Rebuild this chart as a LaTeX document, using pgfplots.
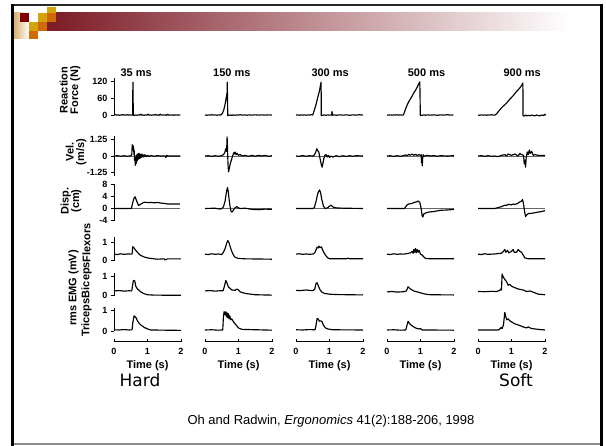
\documentclass[border=0pt]{standalone}
\usepackage{pgfplots}
\pgfplotsset{compat=1.18}
\usepackage{fontspec}
\setmainfont{Liberation Sans}
\newfontfamily\dejavu{DejaVu Sans}
\definecolor{barred}{HTML}{7E1E28}
\definecolor{sqred}{HTML}{840000}
\definecolor{gold}{HTML}{D4A20A}
\definecolor{orng}{HTML}{D06A08}
\definecolor{tan}{HTML}{D8B070}
\pgfplotsset{
  /pgf/number format/assume math mode=true,
  every axis title/.style={at={(0.5,1)}, anchor=base, yshift=1.5pt, font=\bfseries\fontsize{11}{11}\selectfont},
  panel/.style={scale only axis, width=67pt, xmin=0, xmax=2, clip=false},
  noax/.style={hide axis},
  ycol/.style={hide x axis, axis y line=left, axis line style={-, line width=0.9pt}, tick align=outside, major tick length=3pt, tick style={black, line width=0.9pt}, yticklabel style={font=\bfseries\fontsize{9}{9}\selectfont}},
  force/.style={panel, ymin=0, ymax=130, height=36.8pt, ytick={0,60,120}},
  vel/.style={panel, ymin=-1.5, ymax=1.5, height=39.6pt, ytick={-1.25,0,1.25}, yticklabels={{-1.25},{0},{1.25}}},
  disp/.style={panel, ymin=-4.3, ymax=8.3, height=37.8pt, ytick={-4,0,4,8}, yticklabels={{-4},{0},{4},{8}}},
  flex/.style={panel, ymin=0, ymax=1.28, height=23.9pt, ytick={0,1}},
  bic/.style={panel, ymin=0, ymax=1.2, height=22.8pt, ytick={0,1}},
  tri/.style={panel, ymin=0, ymax=1.15, height=23.3pt, ytick={0,1}},
  timeax/.style={scale only axis, width=67pt, height=8pt, xmin=0, xmax=2, ymin=0, ymax=1, hide y axis, axis x line=bottom, axis line style={-, line width=0.9pt}, xtick={0,1,2}, tick align=inside, major tick length=3pt, tick style={black, line width=0.9pt}, xticklabel style={font=\bfseries\fontsize{9}{9}\selectfont, yshift=-3pt}, xlabel={Time (s)}, xlabel style={at={(axis description cs:0.5,0)}, anchor=base, yshift=-27pt, font=\bfseries\fontsize{11}{11}\selectfont}},
  trace/.style={black, line width=1.15pt, line join=round, mark=none},
  zero/.style={black!60, line width=0.9pt, mark=none},
}
\begin{document}
\begin{tikzpicture}[x=1pt,y=1pt]
\fill[white] (0,0) rectangle (606,446);
% header decoration
\shade[left color=barred, right color=white] (56,415) rectangle (570,433);
\fill[barred] (47,415) rectangle (57,424);
\shade[left color=tan, right color=white] (14,407) rectangle (29,433);
\fill[sqred] (20,424) rectangle (29,433);
\fill[gold] (47,433) rectangle (56,439);
\fill[gold] (38,424) rectangle (47,433);
\fill[orng] (47,424) rectangle (56,433);
\fill[gold] (29,415) rectangle (38,424);
\fill[orng] (38,415) rectangle (47,424);
\fill[orng] (29,407) rectangle (38,415);
% frame
\fill[black!85] (11,440) rectangle (603,442);
\fill[black] (11,0) rectangle (14,442);
\fill[black] (600,0) rectangle (603,442);
\fill[black!45] (14,1) rectangle (600,3);

% ================= Reaction force =================
\begin{axis}[force, ycol, at={(114pt,331pt)}, title={35 ms}, title style={at={(0.33,1)}}]
\addplot[trace] coordinates {(0,0)(0.04,1)(0.08,-0.5)(0.12,0.5)(0.16,-1)(0.2,0.5)(0.24,-0.5)(0.28,1)(0.32,-0.5)(0.36,0)(0.4,1)(0.44,-0.5)(0.48,0.5)(0.52,-0.5)(0.555,0)(0.56,70)(0.565,116)(0.572,45)(0.578,-1)(0.6,-1.5)(0.64,0)(0.68,-1)(0.72,0.5)(0.76,-0.5)(0.8,3)(0.82,-0.5)(0.86,0)(0.9,-1)(0.94,0.5)(0.98,-0.5)(1.02,3)(1.04,-0.5)(1.08,0.5)(1.12,-1)(1.16,0.5)(1.2,-0.5)(1.24,2.5)(1.26,-0.5)(1.3,0)(1.34,-1)(1.38,3)(1.4,-0.5)(1.44,0.5)(1.48,-0.5)(1.52,0.5)(1.56,-1)(1.6,2.5)(1.62,-0.5)(1.66,0)(1.7,-0.5)(1.74,0.5)(1.78,-1)(1.82,0.5)(1.86,-0.5)(1.9,0.5)(1.94,-0.5)(1.98,0)};
\end{axis}
\begin{axis}[force, noax, at={(205pt,331pt)}, title={150 ms}, title style={at={(0.40,1)}}]
\addplot[trace] coordinates {(0,0)(0.05,-1)(0.1,0.5)(0.15,-0.5)(0.2,1)(0.25,-0.5)(0.3,0.5)(0.35,-1)(0.4,0.5)(0.45,-0.5)(0.48,1)(0.52,6)(0.56,18)(0.6,38)(0.63,58)(0.65,72)(0.66,80)(0.665,116)(0.672,60)(0.68,-2)(0.72,-1)(0.76,0.5)(0.8,-1.5)(0.85,0.5)(0.9,-1)(0.95,0.5)(1.0,-0.5)(1.05,1)(1.1,-0.5)(1.2,0.5)(1.25,-1)(1.3,0.5)(1.4,-0.5)(1.5,0.5)(1.6,-0.5)(1.7,0.5)(1.8,-0.5)(1.9,0.5)(2,-0.5)};
\end{axis}
\begin{axis}[force, noax, at={(296pt,331pt)}, title={300 ms}, title style={at={(0.51,1)}}]
\addplot[trace] coordinates {(0,0)(0.05,0.5)(0.1,-1)(0.15,0.5)(0.2,-0.5)(0.25,0.5)(0.3,-1)(0.35,0.5)(0.4,-0.5)(0.45,1)(0.5,0)(0.55,18)(0.6,38)(0.65,62)(0.7,85)(0.73,105)(0.75,116)(0.755,-2)(0.8,-1)(0.85,0.5)(0.9,-1.5)(0.95,0.5)(1.0,-0.5)(1.06,0)(1.075,12)(1.09,-1)(1.15,0.5)(1.2,-1)(1.3,0.5)(1.4,-0.5)(1.5,0.5)(1.6,-1)(1.7,0.5)(1.8,-0.5)(1.9,1)(2,-0.5)};
\end{axis}
\begin{axis}[force, noax, at={(387pt,331pt)}, title={500 ms}, title style={at={(0.59,1)}}]
\addplot[trace] coordinates {(0,0)(0.05,-0.5)(0.1,0.5)(0.15,-1)(0.2,0.5)(0.25,-0.5)(0.3,1)(0.35,-0.5)(0.4,0.5)(0.45,-0.5)(0.49,0)(0.55,20)(0.6,35)(0.65,47)(0.7,57)(0.75,67)(0.8,78)(0.85,87)(0.9,98)(0.95,110)(0.98,117)(0.995,-2)(1.05,-1)(1.1,0.5)(1.15,-1)(1.2,0.5)(1.3,-0.5)(1.4,0.5)(1.5,-1)(1.6,0.5)(1.7,-0.5)(1.8,1)(1.9,-0.5)(1.98,0)};
\end{axis}
\begin{axis}[force, noax, at={(478pt,331pt)}, title={900 ms}, title style={at={(0.66,1)}}]
\addplot[trace] coordinates {(0,0)(0.05,-1)(0.1,0.5)(0.15,-0.5)(0.2,0.5)(0.25,-1)(0.3,0.5)(0.35,-0.5)(0.4,1)(0.45,-0.5)(0.51,0)(0.56,5)(0.6,11)(0.65,18)(0.7,25)(0.75,31)(0.8,36)(0.86,43)(0.9,49)(0.95,56)(1.0,62)(1.05,68)(1.1,76)(1.15,83)(1.2,89)(1.25,96)(1.3,104)(1.34,113)(1.345,-2)(1.38,-4)(1.42,0)(1.46,-3)(1.5,-1)(1.55,-3)(1.6,0)(1.65,-2)(1.7,-3)(1.75,0)(1.8,-2)(1.85,-3)(1.9,0)(1.95,-2)(2,3)(2.01,-2)};
\end{axis}

% ================= Velocity =================
\begin{axis}[vel, ycol, at={(114pt,270.2pt)}]
\addplot[zero] coordinates {(0.02,0)(1.98,0)};
\addplot[trace] coordinates {(0,0)(0.1,0.02)(0.2,-0.02)(0.3,0.02)(0.4,-0.02)(0.5,0.02)(0.53,0.1)(0.545,0.85)(0.555,0.55)(0.565,0.8)(0.575,0.45)(0.585,0.7)(0.595,0.1)(0.605,0.4)(0.615,-0.35)(0.625,-0.1)(0.635,-0.7)(0.645,-0.3)(0.655,-0.6)(0.665,0.05)(0.675,-0.5)(0.685,0.1)(0.695,-0.35)(0.71,0.15)(0.725,-0.25)(0.74,0.2)(0.755,-0.2)(0.77,0.15)(0.79,-0.15)(0.81,0.15)(0.83,-0.1)(0.86,0.12)(0.89,-0.08)(0.92,0.1)(0.96,-0.05)(1.0,0.06)(1.05,-0.04)(1.1,0.04)(1.2,-0.03)(1.28,0.03)(1.4,0)(1.52,0.01)(1.55,-0.12)(1.57,0.05)(1.6,0)(1.98,0)};
\end{axis}
\begin{axis}[vel, noax, at={(205pt,270.2pt)}]
\addplot[zero] coordinates {(0,0)(2,0)};
\addplot[trace] coordinates {(0,0)(0.1,0.02)(0.2,-0.03)(0.3,0.02)(0.4,-0.02)(0.5,0.03)(0.55,0.1)(0.59,0.25)(0.62,0.55)(0.635,0.35)(0.65,0.7)(0.66,1.45)(0.668,0.9)(0.678,0)(0.69,-0.8)(0.705,-1.2)(0.72,-1.0)(0.74,-0.75)(0.77,-0.45)(0.8,-0.2)(0.83,0.05)(0.86,0.25)(0.88,0.15)(0.9,0.3)(0.93,0.1)(0.96,0.2)(1.0,0.05)(1.05,0.12)(1.1,0)(1.2,0.05)(1.3,-0.03)(1.4,0.05)(1.5,-0.02)(1.6,0.05)(1.7,0)(1.8,0.04)(1.9,-0.02)(2,0.02)};
\end{axis}
\begin{axis}[vel, noax, at={(296pt,270.2pt)}]
\addplot[zero] coordinates {(0,0)(2,0)};
\addplot[trace] coordinates {(0,0)(0.1,-0.02)(0.2,0.03)(0.3,-0.02)(0.4,0.02)(0.5,0)(0.55,0.08)(0.59,0.3)(0.62,0.55)(0.65,0.4)(0.68,0.3)(0.7,0.05)(0.73,-0.35)(0.76,-0.7)(0.78,-0.85)(0.8,-0.6)(0.83,-0.2)(0.86,0.05)(0.9,0.1)(0.93,-0.08)(0.97,0.05)(1.0,-0.1)(1.05,0)(1.1,-0.08)(1.2,0.02)(1.3,-0.05)(1.4,0.02)(1.5,-0.03)(1.6,0.02)(1.7,-0.02)(1.8,0.02)(2,0)};
\end{axis}
\begin{axis}[vel, noax, at={(387pt,270.2pt)}]
\addplot[zero] coordinates {(0,0)(2,0)};
\addplot[trace] coordinates {(0,0)(0.1,0.02)(0.2,-0.03)(0.3,0.02)(0.4,-0.02)(0.5,0.03)(0.55,0.08)(0.6,0.02)(0.65,0.12)(0.7,0.06)(0.75,0.15)(0.8,0.05)(0.85,0.13)(0.9,0.04)(0.95,0.1)(1.0,0.05)(1.02,0.1)(1.03,-0.5)(1.04,-0.1)(1.05,-0.75)(1.065,-0.2)(1.08,0.1)(1.1,-0.02)(1.2,0.05)(1.3,0)(1.4,0.03)(1.5,-0.02)(1.6,0.02)(1.8,0)(2,0.02)};
\end{axis}
\begin{axis}[vel, noax, at={(478pt,270.2pt)}]
\addplot[zero] coordinates {(0,0)(2,0)};
\addplot[trace] coordinates {(0,0)(0.1,0.02)(0.2,-0.02)(0.3,0.02)(0.4,-0.02)(0.5,0)(0.6,-0.05)(0.7,0.05)(0.8,0.1)(0.85,0)(0.9,0.15)(1.0,0.05)(1.1,0.15)(1.2,0.0)(1.25,0.2)(1.3,0.1)(1.36,0.05)(1.38,-0.6)(1.4,-0.3)(1.42,-0.85)(1.44,-0.1)(1.47,0.3)(1.5,0.1)(1.53,0.45)(1.56,0.2)(1.6,0.35)(1.65,0.05)(1.7,0.1)(1.8,0.05)(2,0.05)};
\end{axis}

% ================= Displacement =================
\begin{axis}[disp, ycol, at={(114pt,224.6pt)}]
\addplot[zero] coordinates {(0.02,0)(1.98,0)};
\addplot[trace] coordinates {(0,0)(0.52,0)(0.56,2)(0.6,3.5)(0.63,3.9)(0.66,3)(0.7,1.8)(0.74,1.0)(0.78,1.3)(0.85,1.8)(0.9,2.1)(1.0,2.0)(1.1,2.0)(1.2,1.9)(1.3,2.0)(1.4,1.8)(1.5,1.7)(1.6,1.5)(1.97,1.5)};
\end{axis}
\begin{axis}[disp, noax, at={(205pt,224.6pt)}]
\addplot[zero] coordinates {(0,0)(2,0)};
\addplot[trace] coordinates {(0,0)(0.3,0.1)(0.45,-0.2)(0.5,0)(0.55,0.5)(0.6,2.5)(0.64,5.5)(0.67,7)(0.69,6)(0.72,3)(0.75,0.5)(0.78,-1)(0.81,-1.2)(0.85,-0.5)(0.9,0.3)(0.95,0.6)(1.0,0.2)(1.05,0)(1.2,0.1)(1.4,-0.3)(1.6,-0.4)(1.8,-0.2)(2.0,-0.3)};
\end{axis}
\begin{axis}[disp, noax, at={(296pt,224.6pt)}]
\addplot[zero] coordinates {(0,0)(2,0)};
\addplot[trace] coordinates {(0,0)(0.5,0)(0.55,0.3)(0.6,2.5)(0.65,5)(0.7,6.2)(0.73,5.5)(0.77,3)(0.82,0.8)(0.87,0)(0.95,0.3)(1.0,0.8)(1.05,1.1)(1.1,0.5)(1.2,0.2)(1.4,0.1)(2,0)};
\end{axis}
\begin{axis}[disp, noax, at={(387pt,224.6pt)}]
\addplot[zero] coordinates {(0,0)(2,0)};
\addplot[trace] coordinates {(0,0)(0.52,0)(0.56,0.6)(0.6,1.2)(0.65,1.5)(0.7,1.6)(0.75,1.7)(0.8,2.0)(0.88,2.2)(0.93,2.5)(0.98,2.0)(1.02,0)(1.05,-2.5)(1.07,-2.8)(1.1,-1.8)(1.15,-1.5)(1.25,-1.2)(1.4,-1.0)(1.6,-0.6)(1.8,-0.5)(2.0,-0.3)};
\end{axis}
\begin{axis}[disp, noax, at={(478pt,224.6pt)}]
\addplot[zero] coordinates {(0,0)(2,0)};
\addplot[trace] coordinates {(0,0)(0.5,0)(0.6,0.3)(0.7,0.6)(0.8,1.1)(0.85,1.0)(0.9,1.4)(1.0,1.2)(1.05,1.5)(1.1,1.3)(1.2,1.8)(1.25,2.2)(1.3,2.5)(1.33,3.0)(1.36,1.5)(1.39,-1)(1.42,-2.7)(1.45,-2.2)(1.5,-1.7)(1.6,-1.6)(1.7,-1.4)(1.8,-1.2)(1.9,-1.0)(2.0,-0.7)};
\end{axis}

% ================= Flexors EMG =================
\begin{axis}[flex, ycol, at={(114pt,185.3pt)}]
\addplot[trace] coordinates {(0,0.35)(0.1,0.33)(0.2,0.37)(0.3,0.34)(0.4,0.36)(0.54,0.35)(0.56,0.75)(0.6,0.68)(0.65,0.55)(0.7,0.45)(0.75,0.35)(0.8,0.28)(0.9,0.2)(1.0,0.15)(1.1,0.12)(1.2,0.1)(1.3,0.08)(1.5,0.1)(1.52,0.04)(1.6,0.1)(2.0,0.1)};
\end{axis}
\begin{axis}[flex, noax, at={(205pt,185.3pt)}]
\addplot[trace] coordinates {(0,0.35)(0.1,0.33)(0.2,0.37)(0.3,0.34)(0.4,0.36)(0.5,0.33)(0.55,0.45)(0.6,0.65)(0.65,0.95)(0.68,1.08)(0.72,0.95)(0.76,0.7)(0.8,0.5)(0.85,0.3)(0.9,0.18)(1.0,0.12)(1.2,0.1)(2,0.08)};
\end{axis}
\begin{axis}[flex, noax, at={(296pt,185.3pt)}]
\addplot[trace] coordinates {(0,0.35)(0.1,0.37)(0.2,0.34)(0.3,0.36)(0.4,0.34)(0.52,0.36)(0.57,0.45)(0.6,0.6)(0.63,0.72)(0.66,0.68)(0.68,0.78)(0.72,0.7)(0.76,0.74)(0.8,0.55)(0.85,0.38)(0.9,0.25)(0.95,0.15)(1.0,0.1)(1.5,0.1)(1.55,0.14)(1.6,0.1)(2,0.1)};
\end{axis}
\begin{axis}[flex, noax, at={(387pt,185.3pt)}]
\addplot[trace] coordinates {(0,0.35)(0.1,0.33)(0.2,0.37)(0.3,0.34)(0.4,0.36)(0.5,0.35)(0.6,0.38)(0.7,0.42)(0.75,0.5)(0.78,0.4)(0.8,0.6)(0.82,0.45)(0.85,0.65)(0.87,0.42)(0.9,0.6)(0.93,0.45)(0.96,0.55)(1.0,0.35)(1.05,0.3)(1.1,0.2)(1.15,0.12)(1.3,0.1)(2,0.1)};
\end{axis}
\begin{axis}[flex, noax, at={(478pt,185.3pt)}]
\addplot[trace] coordinates {(0,0.35)(0.1,0.33)(0.2,0.37)(0.3,0.34)(0.5,0.36)(0.7,0.4)(0.75,0.48)(0.8,0.6)(0.83,0.45)(0.88,0.55)(0.92,0.42)(1.0,0.5)(1.05,0.6)(1.08,0.45)(1.15,0.45)(1.2,0.6)(1.25,0.5)(1.3,0.45)(1.35,0.3)(1.4,0.15)(1.5,0.1)(2,0.1)};
\end{axis}

% ================= Biceps EMG =================
\begin{axis}[bic, ycol, at={(114pt,150.3pt)}]
\addplot[trace] coordinates {(0,0.25)(0.15,0.27)(0.3,0.24)(0.45,0.26)(0.53,0.25)(0.55,0.5)(0.58,0.8)(0.62,0.78)(0.65,0.5)(0.7,0.35)(0.75,0.28)(0.8,0.2)(0.9,0.1)(1.0,0.05)(1.2,0.03)(2,0.02)};
\end{axis}
\begin{axis}[bic, noax, at={(205pt,150.3pt)}]
\addplot[trace] coordinates {(0,0.25)(0.15,0.27)(0.3,0.24)(0.45,0.26)(0.54,0.26)(0.58,0.5)(0.62,0.8)(0.66,0.65)(0.7,0.45)(0.75,0.38)(0.8,0.3)(0.9,0.28)(0.95,0.35)(1.0,0.3)(1.05,0.2)(1.2,0.12)(1.5,0.05)(2,0.03)};
\end{axis}
\begin{axis}[bic, noax, at={(296pt,150.3pt)}]
\addplot[trace] coordinates {(0,0.28)(0.15,0.27)(0.3,0.3)(0.45,0.27)(0.52,0.28)(0.56,0.35)(0.6,0.65)(0.63,0.68)(0.67,0.5)(0.72,0.3)(0.78,0.18)(0.85,0.12)(1.0,0.08)(1.2,0.06)(2,0.04)};
\end{axis}
\begin{axis}[bic, noax, at={(387pt,150.3pt)}]
\addplot[trace] coordinates {(0,0.2)(0.15,0.22)(0.3,0.19)(0.5,0.21)(0.58,0.25)(0.63,0.47)(0.7,0.35)(0.8,0.25)(0.9,0.2)(1.0,0.15)(1.15,0.08)(1.3,0.05)(2,0.04)};
\end{axis}
\begin{axis}[bic, noax, at={(478pt,150.3pt)}]
\addplot[trace] coordinates {(0,0.22)(0.2,0.21)(0.4,0.23)(0.55,0.22)(0.65,0.28)(0.68,0.35)(0.7,0.3)(0.72,1.14)(0.75,1.0)(0.8,0.85)(0.85,0.75)(0.9,0.55)(0.95,0.6)(1.0,0.5)(1.1,0.42)(1.2,0.35)(1.35,0.3)(1.45,0.22)(1.55,0.25)(1.7,0.15)(1.8,0.08)(2,0.05)};
\end{axis}

% ================= Triceps EMG =================
\begin{axis}[tri, ycol, at={(114pt,115pt)}]
\addplot[trace] coordinates {(0,0.06)(0.15,0.05)(0.3,0.07)(0.45,0.05)(0.54,0.06)(0.56,0.4)(0.6,0.75)(0.63,0.7)(0.66,0.65)(0.7,0.5)(0.75,0.38)(0.8,0.3)(0.9,0.18)(1.0,0.1)(1.1,0.05)(2,0.03)};
\end{axis}
\begin{axis}[tri, noax, at={(205pt,115pt)}]
\addplot[trace] coordinates {(0,0.05)(0.2,0.06)(0.4,0.04)(0.53,0.05)(0.55,0.7)(0.57,0.95)(0.6,0.8)(0.62,0.95)(0.64,0.7)(0.66,0.9)(0.68,0.65)(0.7,0.85)(0.72,0.6)(0.74,0.75)(0.77,0.55)(0.8,0.6)(0.85,0.45)(0.9,0.35)(0.95,0.25)(1.0,0.15)(1.1,0.08)(2,0.04)};
\end{axis}
\begin{axis}[tri, noax, at={(296pt,115pt)}]
\addplot[trace] coordinates {(0,0.06)(0.2,0.05)(0.4,0.07)(0.57,0.06)(0.6,0.3)(0.63,0.62)(0.66,0.6)(0.7,0.48)(0.74,0.5)(0.78,0.45)(0.82,0.28)(0.88,0.15)(0.95,0.1)(1.1,0.06)(2,0.05)};
\end{axis}
\begin{axis}[tri, noax, at={(387pt,115pt)}]
\addplot[trace] coordinates {(0,0.05)(0.2,0.06)(0.4,0.04)(0.56,0.05)(0.6,0.3)(0.63,0.48)(0.68,0.35)(0.75,0.25)(0.85,0.15)(0.95,0.1)(1.0,0.12)(1.05,0.05)(2,0.04)};
\end{axis}
\begin{axis}[tri, noax, at={(478pt,115pt)}]
\addplot[trace] coordinates {(0,0.05)(0.3,0.05)(0.6,0.05)(0.65,0.1)(0.7,0.18)(0.72,0.12)(0.76,0.3)(0.8,0.92)(0.83,0.7)(0.86,0.55)(0.9,0.6)(0.95,0.5)(1.0,0.45)(1.1,0.35)(1.2,0.3)(1.35,0.2)(1.45,0.15)(1.5,0.2)(1.6,0.12)(1.8,0.08)(2,0.05)};
\end{axis}

% ================= Time axes =================
\begin{axis}[timeax, at={(114pt,104.3pt)}]\addplot[draw=none] coordinates {(0,0)};\end{axis}
\begin{axis}[timeax, at={(205pt,104.3pt)}]\addplot[draw=none] coordinates {(0,0)};\end{axis}
\begin{axis}[timeax, at={(296pt,104.3pt)}]\addplot[draw=none] coordinates {(0,0)};\end{axis}
\begin{axis}[timeax, at={(387pt,104.3pt)}]\addplot[draw=none] coordinates {(0,0)};\end{axis}
\begin{axis}[timeax, at={(478pt,104.3pt)}]\addplot[draw=none] coordinates {(0,0)};\end{axis}

% ================= Labels =================
\node[rotate=90, align=center, font=\bfseries\fontsize{11}{10.5}\selectfont] at (70,356) {Reaction\\Force (N)};
\node[rotate=90, align=center, font=\bfseries\fontsize{11}{10.5}\selectfont] at (76,294) {Vel.\\(m/s)};
\node[rotate=90, align=center, font=\bfseries\fontsize{11}{10.5}\selectfont] at (71,245) {Disp.\\(cm)};
\node[rotate=90, font=\bfseries\fontsize{11}{11}\selectfont] at (73.5,158) {rms EMG (mV)};
\node[rotate=90, font=\bfseries\fontsize{11}{11}\selectfont] at (86.5,203.5) {Flexors};
\node[rotate=90, font=\bfseries\fontsize{11}{11}\selectfont] at (86.5,166) {Biceps};
\node[rotate=90, font=\bfseries\fontsize{11}{11}\selectfont] at (86.5,128.5) {Triceps};
\node[font=\dejavu\fontsize{17}{17}\selectfont, anchor=base] at (140,59) {Hard};
\node[font=\dejavu\fontsize{17}{17}\selectfont, anchor=base] at (516,59) {Soft};
\node[font=\fontsize{13}{13}\selectfont] at (331,25) {Oh and Radwin, \textit{Ergonomics} 41(2):188-206, 1998};
\pgfresetboundingbox
\path (0,0) rectangle (606,446);
\end{tikzpicture}
\end{document}
